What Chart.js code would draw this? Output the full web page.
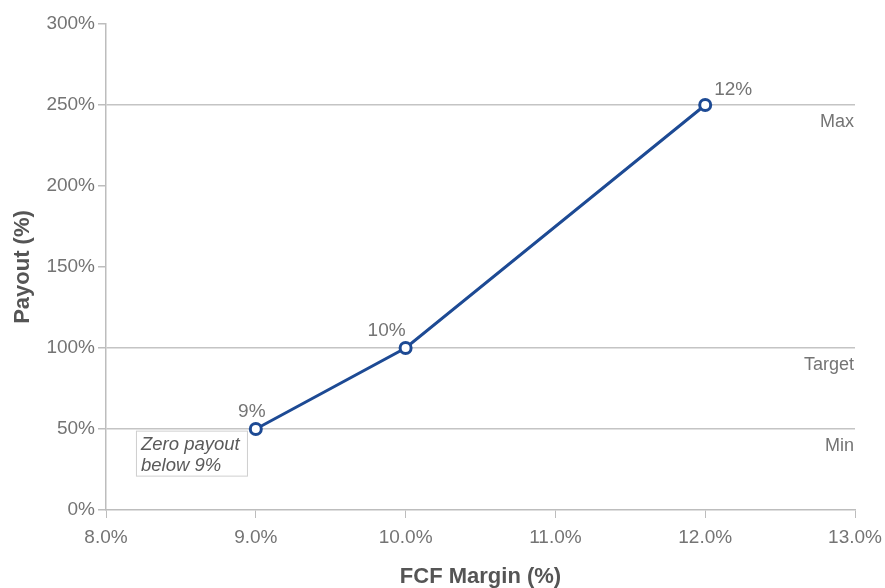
<!DOCTYPE html>
<html>
<head>
<meta charset="utf-8">
<script src="https://cdn.jsdelivr.net/npm/chart.js@4/dist/chart.umd.min.js"></script>
<style>
  html, body { margin: 0; padding: 0; background: #fff; }
  #wrap { width: 885px; height: 588px; }
</style>
</head>
<body>
<div id="wrap"><canvas id="payout_chart"></canvas></div>
<script>
// FCF margin (%) vs payout (%)
const margins = [9, 10, 12];
const payouts = [50, 100, 250];
const pointLabels = ['9%', '10%', '12%'];

// reference lines on the y axis
const refValues = [50, 100, 250];
const refNames = ['Min', 'Target', 'Max'];

const noteLines = ['Zero payout', 'below 9%'];

const fontFamily = '"Liberation Sans", Arial, sans-serif';
const gray = '#747474';
const blue = '#1d4a94';

const textPlugin = {
    id: 'textPlugin',
    afterDatasetsDraw(chart) {
        const ctx = chart.ctx;
        const x = chart.scales.x;
        const y = chart.scales.y;
        const area = chart.chartArea;
        ctx.save();
        ctx.font = '18px ' + fontFamily;
        ctx.fillStyle = gray;

        // labels under the reference lines, right aligned
        ctx.textAlign = 'right';
        ctx.textBaseline = 'top';
        refValues.forEach((v, i) => {
            ctx.fillText(refNames[i], area.right - 1, y.getPixelForValue(v) + 8);
        });

        // value labels above the points
        const meta = chart.getDatasetMeta(0);
        ctx.font = '19px ' + fontFamily;
        ctx.textBaseline = 'alphabetic';
        meta.data.forEach((pt, i) => {
            if (i === 0) {
                ctx.textAlign = 'center';
                ctx.fillText(pointLabels[i], pt.x - 4, pt.y - 12);
            } else if (i === 1) {
                ctx.textAlign = 'right';
                ctx.fillText(pointLabels[i], pt.x, pt.y - 12);
            } else {
                ctx.textAlign = 'left';
                ctx.fillText(pointLabels[i], pt.x + 9, pt.y - 10);
            }
        });

        // note box
        const bx = x.getPixelForValue(8.2);
        const by = y.getPixelForValue(49);
        ctx.font = 'italic 18.5px ' + fontFamily;
        ctx.textAlign = 'left';
        ctx.textBaseline = 'alphabetic';
        ctx.fillStyle = '#5a5a5a';
        ctx.fillText(noteLines[0], bx + 5, by + 19);
        ctx.fillText(noteLines[1], bx + 5, by + 40);
        ctx.strokeStyle = '#cfcfcf';
        ctx.lineWidth = 1;
        ctx.strokeRect(bx + 0.5, by + 0.5, 111, 45);
        ctx.restore();
    }
};

new Chart(document.getElementById('payout_chart'), {
    type: 'line',
    data: {
        datasets: [{
            data: margins.map((m, i) => ({ x: m, y: payouts[i] })),
            borderColor: blue,
            borderWidth: 3,
            pointRadius: 5.5,
            pointBorderWidth: 3,
            pointBackgroundColor: '#fff',
            pointBorderColor: blue,
            tension: 0
        }]
    },
    options: {
        responsive: true,
        maintainAspectRatio: false,
        animation: false,
        layout: { padding: { top: 24, right: 30, left: 0, bottom: 0 } },
        plugins: {
            legend: { display: false },
            tooltip: { enabled: false }
        },
        scales: {
            x: {
                type: 'linear',
                min: 8,
                max: 13,
                afterFit(scale) {
                    scale.height = 78;
                    scale.paddingLeft = 0;
                    scale.paddingRight = 0;
                },
                ticks: {
                    stepSize: 1,
                    color: gray,
                    padding: 8,
                    font: { family: fontFamily, size: 19 },
                    callback: v => v.toFixed(1) + '%'
                },
                grid: {
                    drawOnChartArea: false,
                    tickLength: 8,
                    tickColor: '#bdbdbd'
                },
                border: { color: '#bdbdbd', width: 1.5 },
                title: {
                    display: true,
                    text: 'FCF Margin (%)',
                    color: '#555',
                    font: { family: fontFamily, size: 22, weight: 'bold' },
                    padding: { top: 6, bottom: -2 }
                }
            },
            y: {
                min: 0,
                max: 300,
                afterFit(scale) { scale.width = 106; },
                ticks: {
                    stepSize: 50,
                    color: gray,
                    padding: 3,
                    font: { family: fontFamily, size: 19 },
                    callback: v => v + '%'
                },
                grid: {
                    color: ctx => refValues.includes(ctx.tick && ctx.tick.value) ? '#c4c4c4' : 'rgba(0,0,0,0)',
                    lineWidth: 1.5,
                    tickLength: 8,
                    tickColor: '#bdbdbd'
                },
                border: { color: '#bdbdbd', width: 1.5 },
                title: {
                    display: true,
                    text: 'Payout (%)',
                    color: '#555',
                    font: { family: fontFamily, size: 22, weight: 'bold' },
                    padding: { top: 10, bottom: 0 }
                }
            }
        }
    },
    plugins: [textPlugin]
});
</script>
</body>
</html>
